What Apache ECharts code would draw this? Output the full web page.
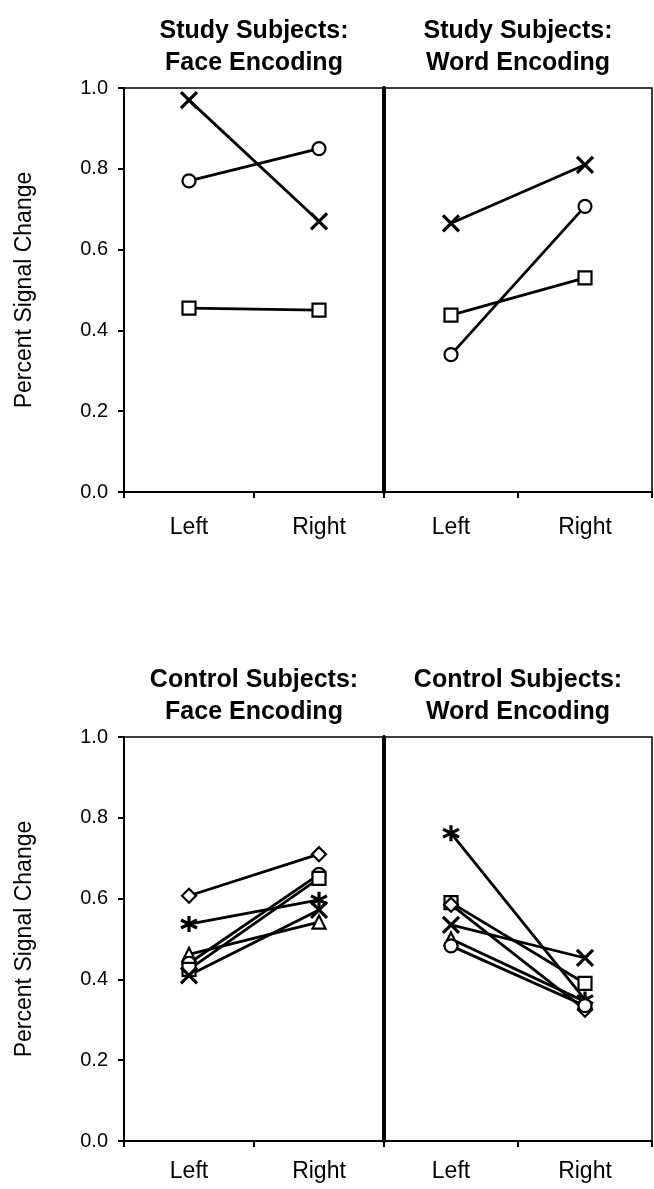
<!DOCTYPE html>
<html>
<head>
<meta charset="utf-8">
<script src="https://cdn.jsdelivr.net/npm/echarts@6/dist/echarts.min.js"></script>
<style>
html,body{margin:0;padding:0;background:#fff;}
#chart{width:654px;height:1189px;}
</style>
</head>
<body>
<div id="chart"></div>
<script>
// ---- data ----
const categories = ['Left', 'Right'];
const yTickValues = [0.0, 0.2, 0.4, 0.6, 0.8, 1.0];
const panelTitles = ['Study Subjects:\nFace Encoding', 'Study Subjects:\nWord Encoding',
                     'Control Subjects:\nFace Encoding', 'Control Subjects:\nWord Encoding'];
const yAxisTitle = 'Percent Signal Change';

// Study subjects: face encoding
const studyFaceX = [0.97, 0.67];
const studyFaceCircle = [0.77, 0.85];
const studyFaceSquare = [0.455, 0.45];
// Study subjects: word encoding
const studyWordX = [0.665, 0.81];
const studyWordCircle = [0.34, 0.707];
const studyWordSquare = [0.438, 0.53];

// Control subjects: face encoding
const ctrlFaceDiamond = [0.607, 0.71];
const ctrlFaceStar = [0.537, 0.597];
const ctrlFaceTriangle = [0.462, 0.542];
const ctrlFaceCircle = [0.44, 0.66];
const ctrlFaceSquare = [0.425, 0.65];
const ctrlFaceX = [0.41, 0.572];
// Control subjects: word encoding
const ctrlWordStar = [0.762, 0.35];
const ctrlWordSquare = [0.59, 0.39];
const ctrlWordDiamond = [0.585, 0.325];
const ctrlWordX = [0.535, 0.453];
const ctrlWordTriangle = [0.5, 0.345];
const ctrlWordCircle = [0.483, 0.335];

// ---- symbols ----
const SYM = {
  x: 'path://M0,0L10,10M0,10L10,0',
  star: 'path://M5,0L5,10M0.67,2.5L9.33,7.5M0.67,7.5L9.33,2.5',
  circle: 'circle', square: 'rect', triangle: 'triangle', diamond: 'diamond'
};
const SIZE = { x: 16, star: 16, circle: 13, square: 13, triangle: 13, diamond: 14 };

function ser(idx, kind, data) {
  const open = kind === 'x' || kind === 'star';
  return {
    type: 'line', xAxisIndex: idx, yAxisIndex: idx, data: data,
    symbol: SYM[kind], symbolSize: SIZE[kind], showSymbol: true,
    lineStyle: { color: '#000', width: 2.8 },
    itemStyle: { color: open ? 'none' : '#fff', borderColor: '#000', borderWidth: open ? 3.2 : 2.2 },
    emphasis: { disabled: true }, silent: true, z: 3
  };
}

const font = 'Liberation Sans, Arial, sans-serif';
const panels = [
  { left: 124, width: 260, top: 88 },
  { left: 384, width: 268, top: 88 },
  { left: 124, width: 260, top: 737 },
  { left: 384, width: 268, top: 737 }
];
const H = 404;

const grids = panels.map(p => ({ left: p.left, top: p.top, width: p.width, height: H,
  show: true, borderColor: '#000', borderWidth: 1.5, backgroundColor: 'transparent' }));

const xAxes = panels.map((p, i) => ({
  type: 'category', gridIndex: i, data: categories, boundaryGap: true,
  axisLine: { show: true, lineStyle: { color: '#000', width: 2 } },
  axisTick: { show: true, length: 6, lineStyle: { color: '#000', width: 2 } },
  axisLabel: { color: '#000', fontSize: 23, fontFamily: font, margin: i < 2 ? 24 : 19 },
  splitLine: { show: false }
}));

const yAxes = panels.map((p, i) => {
  const isLeft = i % 2 === 0;
  return {
    type: 'value', gridIndex: i, min: 0, max: 1, interval: 0.2,
    axisLine: { show: true, lineStyle: { color: '#000', width: isLeft ? 2 : 4 } },
    axisTick: { show: isLeft, length: 6, lineStyle: { color: '#000', width: 2 } },
    axisLabel: { show: isLeft, color: '#000', fontSize: 20, fontFamily: font, margin: 16,
      formatter: v => yTickValues.some(t => Math.abs(t - v) < 1e-9) ? v.toFixed(1) : '' },
    splitLine: { show: false },
    name: isLeft ? yAxisTitle : '', nameLocation: 'middle', nameGap: 88,
    nameTextStyle: { color: '#000', fontSize: 23, fontFamily: font }
  };
});

const titleGraphics = panels.map((p, i) => ({
  type: 'text', x: p.left + p.width / 2, y: p.top - 73,
  style: { text: panelTitles[i], textAlign: 'center', fill: '#000', fontSize: 25,
    fontWeight: 'bold', fontFamily: font, lineHeight: 32 }
}));

const series = [
  ser(0, 'x', studyFaceX), ser(0, 'circle', studyFaceCircle), ser(0, 'square', studyFaceSquare),
  ser(1, 'x', studyWordX), ser(1, 'circle', studyWordCircle), ser(1, 'square', studyWordSquare),
  ser(2, 'diamond', ctrlFaceDiamond), ser(2, 'star', ctrlFaceStar), ser(2, 'triangle', ctrlFaceTriangle),
  ser(2, 'circle', ctrlFaceCircle), ser(2, 'square', ctrlFaceSquare), ser(2, 'x', ctrlFaceX),
  ser(3, 'star', ctrlWordStar), ser(3, 'square', ctrlWordSquare), ser(3, 'diamond', ctrlWordDiamond),
  ser(3, 'x', ctrlWordX), ser(3, 'triangle', ctrlWordTriangle), ser(3, 'circle', ctrlWordCircle)
];

const chart = echarts.init(document.getElementById('chart'), null, { renderer: 'canvas' });
chart.setOption({
  animation: false,
  backgroundColor: '#fff',
  grid: grids, xAxis: xAxes, yAxis: yAxes,
  graphic: titleGraphics,
  series: series
});
</script>
</body>
</html>
